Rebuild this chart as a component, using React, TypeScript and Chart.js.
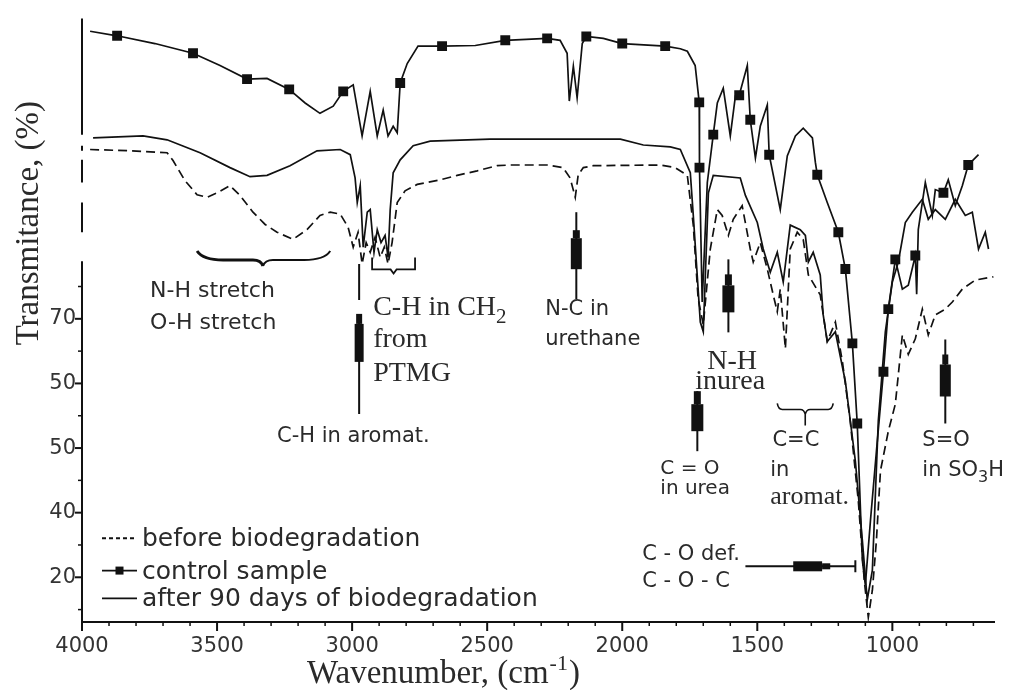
import React, { useEffect, useRef } from 'react';
import { Chart, registerables } from 'chart.js';

Chart.register(...registerables);

// ---------- data (wavenumber cm-1, transmittance) ----------
const controlWn = [3970, 3870, 3730, 3589, 3489, 3389, 3315, 3233, 3174, 3119, 3070, 3033, 2996, 2963, 2933, 2907, 2885, 2867, 2848, 2833, 2822, 2796, 2756, 2667, 2544, 2433, 2278, 2230, 2204, 2196, 2181, 2167, 2148, 2133, 2070, 2000, 1841, 1785, 1759, 1730, 1715, 1714, 1704, 1685, 1663, 1648, 1626, 1600, 1581, 1567, 1537, 1526, 1507, 1489, 1463, 1456, 1415, 1389, 1359, 1330, 1296, 1285, 1278, 1241, 1200, 1174, 1148, 1130, 1111, 1100, 1081, 1059, 1033, 1015, 989, 963, 941, 915, 910, 904, 878, 852, 841, 811, 793, 767, 741, 719, 681];
const controlT = [104.5, 103.8, 102.6, 101.1, 99.2, 97.1, 97.2, 95.5, 93.4, 91.8, 92.9, 95.2, 96.2, 88.3, 95.2, 88.3, 92.3, 88.3, 89.8, 88.8, 96.5, 99.5, 102.2, 102.2, 102.3, 103.1, 103.4, 103.1, 101.1, 93.7, 99.1, 94.2, 102.6, 103.7, 103.4, 102.6, 102.2, 101.8, 101.4, 99.2, 93.5, 83.4, 62.6, 81.1, 88.5, 93.4, 95.7, 88.3, 94.5, 94.6, 99.2, 90.8, 84.9, 89.8, 93.1, 85.4, 76.9, 85.2, 88.3, 89.5, 88.0, 84.2, 82.3, 78.0, 73.4, 67.7, 56.2, 43.8, 22.6, 18.8, 28.8, 39.5, 51.8, 61.5, 69.2, 64.6, 65.2, 69.8, 63.8, 73.8, 81.1, 76.0, 80.0, 79.5, 81.5, 77.5, 80.6, 83.8, 85.4];

const controlMarkWn = [3870, 3589, 3389, 3233, 3033, 2822, 2667, 2433, 2278, 2133, 2000, 1841, 1715, 1714, 1663, 1567, 1526, 1456, 1278, 1200, 1174, 1148, 1130, 1033, 1015, 989, 915, 811, 719];
const controlMarkT = [103.8, 101.1, 97.1, 95.5, 95.2, 96.5, 102.2, 103.1, 103.4, 103.7, 102.6, 102.2, 93.5, 83.4, 88.5, 94.6, 90.8, 85.4, 82.3, 73.4, 67.7, 56.2, 43.8, 51.8, 61.5, 69.2, 69.8, 79.5, 83.8];

const afterWn = [3959, 3774, 3685, 3563, 3452, 3378, 3315, 3230, 3130, 3044, 3007, 2989, 2981, 2970, 2959, 2944, 2933, 2919, 2907, 2893, 2878, 2867, 2859, 2848, 2822, 2774, 2711, 2489, 2007, 1922, 1822, 1785, 1748, 1737, 1711, 1700, 1681, 1663, 1563, 1544, 1500, 1478, 1452, 1426, 1404, 1378, 1341, 1322, 1311, 1293, 1267, 1256, 1241, 1211, 1174, 1137, 1111, 1093, 1074, 1052, 1026, 1000, 978, 952, 926, 889, 867, 841, 804, 767, 730, 704, 681, 656, 644];
const afterT = [88.0, 88.3, 87.7, 85.7, 83.4, 82.0, 82.2, 83.7, 86.0, 86.2, 85.4, 81.8, 78.0, 80.6, 71.1, 76.5, 76.9, 70.3, 73.8, 71.8, 72.9, 69.5, 76.9, 82.6, 84.6, 86.8, 87.5, 87.8, 87.8, 86.9, 86.6, 86.2, 82.6, 76.0, 59.5, 58.0, 79.5, 82.2, 81.8, 79.1, 74.9, 70.8, 67.2, 70.3, 65.7, 74.5, 73.8, 72.9, 68.8, 70.3, 66.8, 60.6, 56.5, 58.0, 50.3, 38.0, 25.7, 16.5, 21.1, 44.2, 58.0, 65.7, 68.8, 74.9, 76.5, 78.5, 75.4, 76.9, 75.4, 78.5, 76.0, 76.5, 70.8, 73.4, 70.8];

const beforeWn = [3970, 3822, 3685, 3663, 3619, 3574, 3537, 3500, 3452, 3415, 3367, 3322, 3278, 3219, 3167, 3119, 3081, 3044, 3015, 2996, 2978, 2963, 2948, 2933, 2915, 2896, 2881, 2867, 2852, 2833, 2804, 2759, 2674, 2611, 2537, 2463, 2415, 2278, 2219, 2193, 2174, 2163, 2144, 2107, 1859, 1804, 1759, 1737, 1719, 1700, 1674, 1648, 1630, 1607, 1589, 1556, 1526, 1515, 1489, 1463, 1441, 1426, 1415, 1396, 1378, 1352, 1330, 1311, 1267, 1241, 1211, 1185, 1156, 1126, 1104, 1089, 1074, 1059, 1044, 1015, 989, 963, 941, 915, 889, 867, 841, 804, 778, 741, 693, 626];
const beforeT = [86.2, 86.0, 85.7, 84.5, 81.4, 79.2, 78.8, 79.5, 80.6, 79.1, 76.5, 74.6, 73.4, 72.3, 73.8, 76.0, 76.5, 76.2, 74.2, 71.1, 73.4, 68.5, 71.8, 70.3, 72.6, 69.5, 71.1, 68.5, 71.8, 78.0, 79.8, 80.8, 81.5, 82.2, 82.9, 83.7, 83.8, 83.8, 83.4, 81.8, 78.8, 82.3, 83.4, 83.7, 83.8, 83.4, 82.2, 74.5, 63.1, 59.1, 70.8, 76.9, 76.0, 72.9, 75.4, 77.5, 70.8, 68.8, 71.8, 67.7, 63.7, 61.1, 64.6, 55.4, 70.8, 73.4, 72.3, 66.8, 63.7, 56.5, 59.5, 53.4, 44.2, 31.8, 19.5, 13.8, 18.0, 25.7, 36.5, 42.6, 46.8, 57.5, 54.5, 56.9, 61.5, 57.5, 60.6, 61.5, 62.6, 64.6, 66.0, 66.5];

const xTickValues = [4000, 3500, 3000, 2500, 2000, 1500, 1000];
const yTickValues = [20, 30, 40, 50, 60];
const yTickLabels = ['20', '40', '50', '50', '70'];
const seriesLabels = ['before biodegradation', 'control sample', 'after 90 days of biodegradation'];

const X_MIN = 620;
const X_MAX = 4000;
const Y_MIN = 13.08;
const Y_MAX = 106.46;

const INK = '#111';
const TEXT = '#2a2a2a';
const SANS = '"DejaVu Sans", sans-serif';
const SERIF = '"Liberation Serif", "Times New Roman", serif';

const pts = (xs: number[], ys: number[]) => xs.map((x, i) => ({ x, y: ys[i] }));

const decorPlugin = {
  id: 'decor',
  afterDatasetsDraw(chart: any) {
    const ctx: CanvasRenderingContext2D = chart.ctx;
    const xs = chart.scales.x;
    const ys = chart.scales.y;
    const area = chart.chartArea;
    const px = (v: number) => xs.getPixelForValue(v);
    const py = (v: number) => ys.getPixelForValue(v);

    ctx.save();
    ctx.strokeStyle = INK;
    ctx.fillStyle = INK;
    ctx.lineCap = 'butt';

    // ---- axes ----
    ctx.lineWidth = 2;
    ctx.beginPath();
    ctx.moveTo(area.left, area.bottom);
    ctx.lineTo(area.right, area.bottom);
    ctx.stroke();
    for (let v = 700; v <= 3900; v += 100) {
      const major = xTickValues.includes(v);
      ctx.lineWidth = major ? 2 : 1.5;
      ctx.beginPath();
      ctx.moveTo(px(v), area.bottom);
      ctx.lineTo(px(v), area.bottom + (major ? 9 : 4));
      ctx.stroke();
    }
    ctx.lineWidth = 2;
    ctx.beginPath();
    ctx.moveTo(px(4000), area.bottom);
    ctx.lineTo(px(4000), area.bottom + 9);
    ctx.stroke();
    const ySegs = [[Y_MIN, 68.9], [73.4, 78.0], [81.1, 84.6], [86.0, 86.8], [88.5, Y_MAX]];
    ctx.lineWidth = 2;
    for (const [a, b] of ySegs) {
      ctx.beginPath();
      ctx.moveTo(area.left, py(a));
      ctx.lineTo(area.left, py(b));
      ctx.stroke();
    }
    for (let v = 15; v <= 65; v += 5) {
      const major = yTickValues.includes(v);
      ctx.lineWidth = major ? 2 : 1.5;
      ctx.beginPath();
      ctx.moveTo(area.left, py(v));
      ctx.lineTo(area.left - (major ? 7 : 4), py(v));
      ctx.stroke();
    }

    // ---- axis titles ----
    ctx.fillStyle = TEXT;
    ctx.textBaseline = 'alphabetic';
    ctx.save();
    ctx.translate(area.left - 44, py(74.8));
    ctx.rotate(-Math.PI / 2);
    ctx.font = `33px ${SERIF}`;
    ctx.textAlign = 'center';
    ctx.fillText('Transmitance, (%)', 0, 0);
    ctx.restore();

    ctx.textAlign = 'left';
    let tx = px(3167);
    const tb = area.bottom + 61;
    ctx.font = `33px ${SERIF}`;
    ctx.fillText('Wavenumber, (cm', tx, tb);
    tx += ctx.measureText('Wavenumber, (cm').width;
    ctx.font = `22px ${SERIF}`;
    ctx.fillText('-1', tx + 1, tb - 13);
    tx += ctx.measureText('-1').width + 2;
    ctx.font = `33px ${SERIF}`;
    ctx.fillText(')', tx, tb);

    // ---- helpers ----
    const text = (s: string, wn: number, t: number, font: string) => {
      ctx.font = font;
      ctx.textAlign = 'left';
      ctx.fillText(s, px(wn), py(t));
    };
    const sub = (parts: [string, boolean][], wn: number, t: number, size: number, fam: string) => {
      let x = px(wn);
      const y = py(t);
      for (const [s, isSub] of parts) {
        ctx.font = `${isSub ? Math.round(size * 0.75) : size}px ${fam}`;
        ctx.fillText(s, x, isSub ? y + size * 0.28 : y);
        x += ctx.measureText(s).width;
      }
    };
    const vPen = (wn: number, tTop: number, len: number, blocks: number[][], lw = 2) => {
      const x = px(wn);
      const y0 = py(tTop);
      ctx.lineWidth = lw;
      ctx.beginPath();
      ctx.moveTo(x, y0);
      ctx.lineTo(x, y0 + len);
      ctx.stroke();
      for (const [a, b, w] of blocks) ctx.fillRect(x - w / 2, y0 + a, w, b - a);
    };

    ctx.fillStyle = INK;
    {
      const x = px(2974);
      const y0 = py(68.5);
      ctx.lineWidth = 2;
      ctx.beginPath();
      ctx.moveTo(x, y0);
      ctx.lineTo(x, y0 + 36);
      ctx.moveTo(x, y0 + 50);
      ctx.lineTo(x, y0 + 150);
      ctx.stroke();
      ctx.fillRect(x - 3, y0 + 50, 6, 10);
      ctx.fillRect(x - 4.5, y0 + 60, 9, 38);
    }
    vPen(2170, 76.5, 87, [[18, 26, 7], [26, 57, 11]]);
    vPen(1607, 69.2, 73, [[15, 26, 7], [26, 53, 12]]);
    vPen(1722, 48.8, 60, [[0, 13, 7], [13, 40, 12]]);
    vPen(804, 56.8, 84, [[15, 25, 6], [25, 57, 11]]);
    {
      const y = py(21.7);
      const x1 = px(1544);
      const x2 = px(1137);
      ctx.lineWidth = 2;
      ctx.beginPath();
      ctx.moveTo(x1, y);
      ctx.lineTo(x2, y);
      ctx.moveTo(x2, y - 6);
      ctx.lineTo(x2, y + 6);
      ctx.stroke();
      const xa = px(1367);
      const xb = px(1260);
      const xc = px(1230);
      ctx.fillRect(xa, y - 5, xb - xa, 10);
      ctx.fillRect(xb, y - 3, xc - xb, 6);
    }

    {
      const x1 = px(3574);
      const x2 = px(3081);
      const xm = px(3330);
      const y0 = py(70.5);
      ctx.lineWidth = 3;
      ctx.beginPath();
      ctx.moveTo(x1, y0);
      ctx.quadraticCurveTo(x1 + 6, y0 + 9, x1 + 26, y0 + 9);
      ctx.lineTo(xm - 10, y0 + 9);
      ctx.quadraticCurveTo(xm - 2, y0 + 9, xm, y0 + 15);
      ctx.stroke();
      ctx.lineWidth = 2;
      ctx.beginPath();
      ctx.moveTo(xm, y0 + 15);
      ctx.quadraticCurveTo(xm + 2, y0 + 9, xm + 10, y0 + 9);
      ctx.lineTo(x2 - 26, y0 + 9);
      ctx.quadraticCurveTo(x2 - 6, y0 + 9, x2, y0);
      ctx.stroke();
    }
    {
      const x1 = px(2926);
      const x2 = px(2767);
      const xm = (x1 + x2) / 2;
      const yt = py(69.5);
      const yb = yt + 12;
      ctx.lineWidth = 1.8;
      ctx.beginPath();
      ctx.moveTo(x1, yt);
      ctx.lineTo(x1, yb);
      ctx.lineTo(xm - 3, yb);
      ctx.lineTo(xm, yb + 4);
      ctx.lineTo(xm + 3, yb);
      ctx.lineTo(x2, yb);
      ctx.lineTo(x2, yt);
      ctx.stroke();
    }
    {
      const x1 = px(1426);
      const x2 = px(1219);
      const xm = (x1 + x2) / 2;
      const yt = py(46.9);
      const yb = yt + 6;
      ctx.lineWidth = 1.6;
      ctx.beginPath();
      ctx.moveTo(x1, yt);
      ctx.quadraticCurveTo(x1 + 1, yb, x1 + 5, yb);
      ctx.lineTo(xm - 5, yb);
      ctx.quadraticCurveTo(xm - 1, yb, xm, yb + 5);
      ctx.lineTo(xm, yb + 16);
      ctx.moveTo(xm, yb + 5);
      ctx.quadraticCurveTo(xm + 1, yb, xm + 5, yb);
      ctx.lineTo(x2 - 5, yb);
      ctx.quadraticCurveTo(x2 - 1, yb, x2, yt);
      ctx.stroke();
    }

    // ---- annotation texts ----
    ctx.fillStyle = TEXT;
    const sans = `21px ${SANS}`;
    const sansL = `22px ${SANS}`;
    const sansS = `20px ${SANS}`;
    const serif = `28px ${SERIF}`;
    text('N-H stretch', 3748, 63.4, sansL);
    text('O-H stretch', 3748, 58.5, sansL);
    text('C-H in aromat.', 3278, 40.9, sans);
    sub([['C-H in CH', false], ['2', true]], 2922, 60.6, 28, SERIF);
    text('from', 2922, 55.7, serif);
    text('PTMG', 2922, 50.3, serif);
    text('N-C in', 2285, 60.6, sans);
    text('urethane', 2285, 56.0, sans);
    text('N-H', 1685, 52.3, serif);
    text('inurea', 1730, 49.2, serif);
    text('C = O', 1859, 36.0, sansS);
    text('in urea', 1859, 32.9, sansS);
    text('C=C', 1444, 40.3, sans);
    text('in', 1452, 35.7, sans);
    text('aromat.', 1452, 31.4, `26px ${SERIF}`);
    text('S=O', 889, 40.3, sans);
    sub([['in SO', false], ['3', true], ['H', false]], 889, 35.7, 21, SANS);
    text('C - O def.', 1926, 22.6, sans);
    text('C - O - C', 1926, 18.5, sans);

    // ---- legend ----
    const lx1 = area.left + 20;
    const lx2 = area.left + 55;
    const rows = [py(24.8), py(19.8), py(15.5)];
    ctx.strokeStyle = INK;
    ctx.lineWidth = 1.8;
    ctx.setLineDash([4, 3]);
    ctx.beginPath();
    ctx.moveTo(lx1, rows[0] - 8);
    ctx.lineTo(lx2, rows[0] - 8);
    ctx.stroke();
    ctx.setLineDash([]);
    ctx.beginPath();
    ctx.moveTo(lx1, rows[1] - 8);
    ctx.lineTo(lx2, rows[1] - 8);
    ctx.stroke();
    ctx.fillStyle = INK;
    ctx.fillRect((lx1 + lx2) / 2 - 4, rows[1] - 12, 8, 8);
    ctx.beginPath();
    ctx.moveTo(lx1, rows[2] - 8);
    ctx.lineTo(lx2, rows[2] - 8);
    ctx.stroke();
    ctx.fillStyle = TEXT;
    ctx.font = `25px ${SANS}`;
    ctx.textAlign = 'left';
    seriesLabels.forEach((s, i) => ctx.fillText(s, lx2 + 5, rows[i]));

    ctx.restore();
  },
};

export default function App() {
  const ref = useRef<HTMLCanvasElement | null>(null);

  useEffect(() => {
    if (!ref.current) return;
    const chart = new Chart(ref.current, {
      type: 'line',
      data: {
        datasets: [
          {
            label: seriesLabels[0],
            data: pts(beforeWn, beforeT),
            borderColor: INK,
            borderWidth: 1.7,
            borderDash: [9, 5],
            pointRadius: 0,
            tension: 0,
            fill: false,
          },
          {
            label: seriesLabels[2],
            data: pts(afterWn, afterT),
            borderColor: INK,
            borderWidth: 1.7,
            pointRadius: 0,
            tension: 0,
            fill: false,
          },
          {
            label: seriesLabels[1],
            data: pts(controlWn, controlT),
            borderColor: INK,
            borderWidth: 1.7,
            pointRadius: 0,
            tension: 0,
            fill: false,
          },
          {
            label: 'control markers',
            data: pts(controlMarkWn, controlMarkT),
            showLine: false,
            pointStyle: 'rect',
            pointRadius: 7,
            pointBackgroundColor: INK,
            pointBorderWidth: 0,
            borderColor: INK,
          },
        ],
      },
      options: {
        responsive: false,
        animation: false,
        events: [],
        layout: { padding: { top: 15, right: 15, left: 0, bottom: 0 } },
        plugins: { legend: { display: false }, tooltip: { enabled: false } },
        scales: {
          x: {
            type: 'linear',
            reverse: true,
            min: X_MIN,
            max: X_MAX,
            afterBuildTicks: (s: any) => {
              s.ticks = xTickValues.map((v) => ({ value: v }));
            },
            afterFit: (s: any) => {
              s.height = 68;
            },
            grid: { display: false, drawTicks: false },
            border: { display: false },
            ticks: {
              padding: 12,
              color: '#333',
              autoSkip: false,
              maxRotation: 0,
              font: { family: 'DejaVu Sans', size: 21 },
              callback: (v: any) => String(v),
            },
          },
          y: {
            type: 'linear',
            min: Y_MIN,
            max: Y_MAX,
            afterBuildTicks: (s: any) => {
              s.ticks = yTickValues.map((v) => ({ value: v }));
            },
            afterFit: (s: any) => {
              s.width = 82;
            },
            grid: { display: false, drawTicks: false },
            border: { display: false },
            ticks: {
              padding: 6,
              color: '#333',
              autoSkip: false,
              font: { family: 'DejaVu Sans', size: 21 },
              callback: (v: any) => {
                const i = yTickValues.indexOf(Number(v));
                return i >= 0 ? yTickLabels[i] : '';
              },
            },
          },
        },
      },
      plugins: [decorPlugin],
    } as any);
    return () => chart.destroy();
  }, []);

  return (
    <div style={{ position: 'fixed', left: 0, top: 0, width: 1010, height: 690, background: '#fff' }}>
      <canvas ref={ref} width={1010} height={690} style={{ display: 'block' }} />
    </div>
  );
}
